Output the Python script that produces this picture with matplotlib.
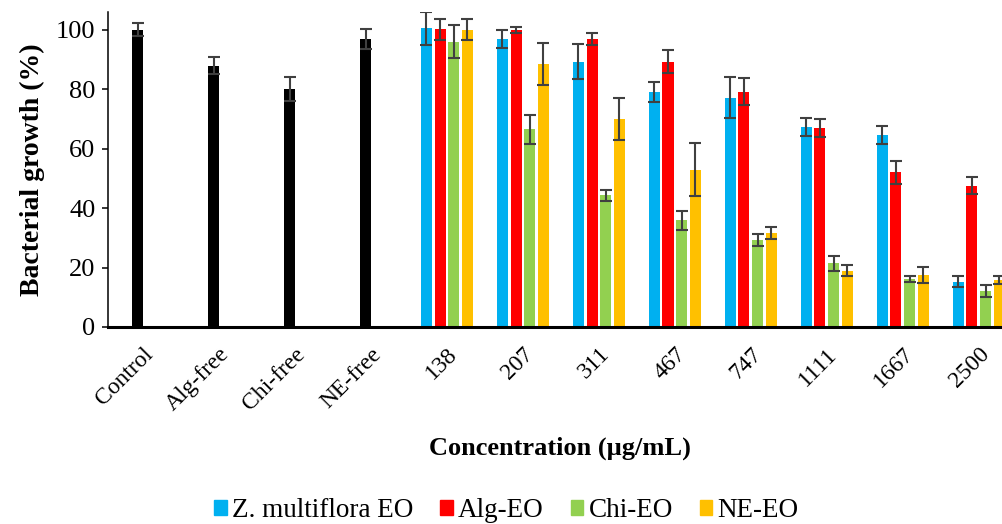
import numpy as np
import matplotlib
matplotlib.use('Agg')
import matplotlib.pyplot as plt
from matplotlib.patches import Patch

plt.rcParams['font.family'] = ['Liberation Serif', 'DejaVu Serif']

# ── Data ──────────────────────────────────────────────────────────────────────
categories = ['Control', 'Alg-free', 'Chi-free', 'NE-free',
              '138', '207', '311', '467', '747', '1111', '1667', '2500']

# controls (single black bars)
ctrl_vals = [100.0, 88.0, 80.0, 97.0]
ctrl_err = [2.2, 3.0, 4.0, 3.3]

series_names = ['Z. multiflora EO', 'Alg-EO', 'Chi-EO', 'NE-EO']
series_colors = ['#00B0F0', '#FF0000', '#92D050', '#FFC000']

zm_vals = [100.5, 97.0, 89.3, 79.0, 77.2, 67.4, 64.6, 15.2]
zm_err = [5.5, 3.0, 6.0, 3.3, 7.0, 3.0, 3.0, 1.8]
alg_vals = [100.2, 100.0, 97.0, 89.3, 79.2, 67.1, 52.0, 47.6]
alg_err = [3.5, 1.0, 2.0, 3.8, 4.5, 3.0, 4.0, 3.0]
chi_vals = [96.0, 66.5, 44.3, 36.0, 29.3, 21.4, 16.3, 12.0]
chi_err = [5.5, 5.0, 1.8, 3.2, 2.0, 2.4, 1.0, 2.0]
ne_vals = [100.0, 88.5, 70.0, 53.0, 31.5, 19.0, 17.4, 15.8]
ne_err = [3.5, 7.0, 7.0, 9.0, 2.0, 2.0, 2.7, 1.3]

series_vals = [zm_vals, alg_vals, chi_vals, ne_vals]
series_err = [zm_err, alg_err, chi_err, ne_err]

# ── Figure ────────────────────────────────────────────────────────────────────
fig = plt.figure(figsize=(10.03, 5.24), dpi=100)
ax = fig.add_axes([0.1077, 0.376, 0.906, 0.601])

err_kw = dict(ecolor='#404040', elinewidth=1.5, capsize=4, capthick=1.5)
bar_w = 0.145
step = 0.18

x_ctrl = np.arange(len(ctrl_vals)) - 0.07
ax.bar(x_ctrl, ctrl_vals, bar_w, color='black', yerr=ctrl_err,
       error_kw=err_kw, zorder=2)

x_conc = np.arange(len(ctrl_vals), len(categories))
offsets = (np.arange(4) - 1.5) * step
for vals, errs, col, off in zip(series_vals, series_err, series_colors, offsets):
    ax.bar(x_conc + off, vals, bar_w, color=col, yerr=errs,
           error_kw=err_kw, zorder=2)

ax.set_xlim(-0.46, 11.5)
ax.set_ylim(0, 106)
ax.set_yticks(range(0, 101, 20))
ax.set_xticks(np.arange(len(categories)))
ax.set_xticklabels(categories, rotation=45, ha='right',
                   rotation_mode='anchor', fontsize=17)
ax.tick_params(axis='x', length=0, pad=12)
ax.tick_params(axis='y', length=4, width=1.1, direction='out',
               labelsize=19, pad=5)

for side in ['top', 'right']:
    ax.spines[side].set_visible(False)
ax.spines['left'].set_linewidth(1.1)
ax.spines['bottom'].set_linewidth(2.2)

ax.set_ylabel('Bacterial growth (%)', fontsize=20, fontweight='bold',
              labelpad=8)
fig.text(0.558, 0.145, 'Concentration (µg/mL)', fontsize=19,
         fontweight='bold', ha='center', va='center')

handles = [Patch(color=c, label=n) for c, n in zip(series_colors, series_names)]
fig.legend(handles=handles, loc='center', bbox_to_anchor=(0.505, 0.025),
           ncol=4, frameon=False, fontsize=19.5, handlelength=0.45,
           handleheight=0.45, handletextpad=0.2, columnspacing=1.0,
           borderpad=0.2)

fig.savefig('out.png', dpi=100)
